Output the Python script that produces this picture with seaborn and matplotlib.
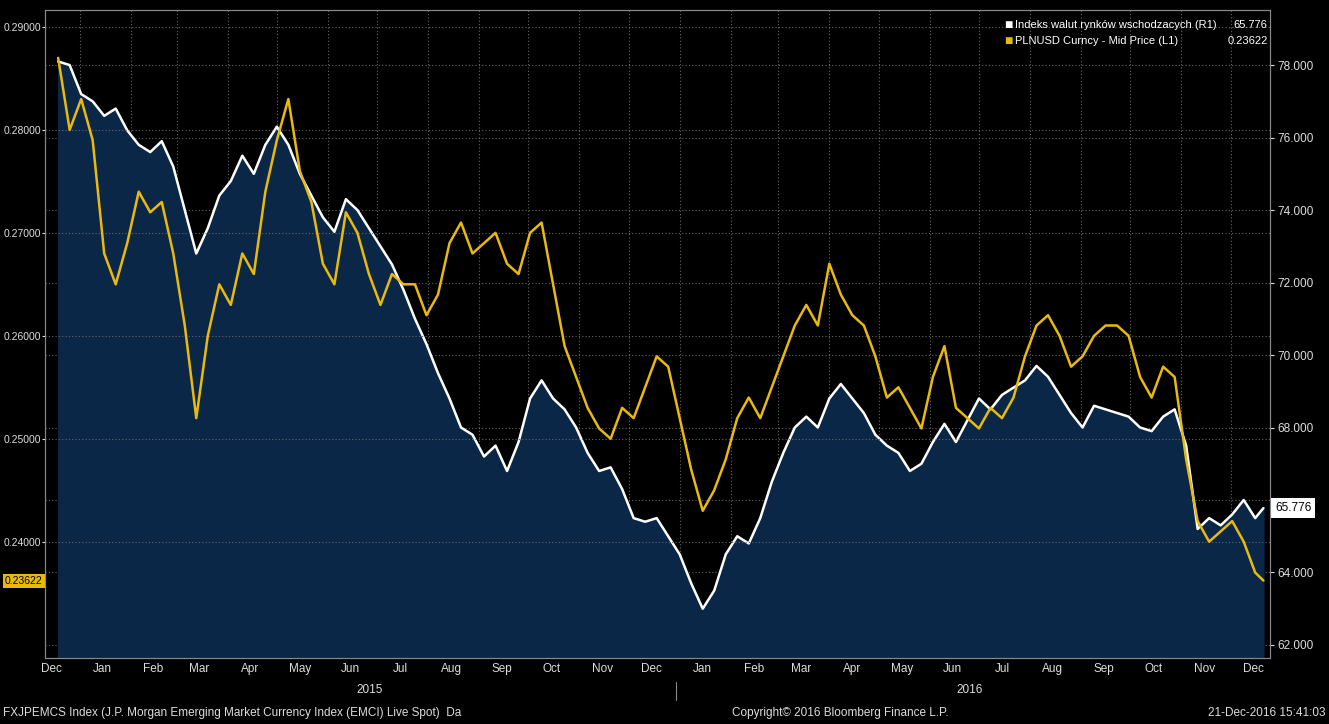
import pandas as pd
import numpy as np
import matplotlib.pyplot as plt
import matplotlib.dates as mdates
import seaborn as sns

# Indeks walut rynkow wschodzacych (R1), tygodniowo od 19-12-2014
emci = [78.1, 78.0,
        77.2, 77.0, 76.6, 76.8, 76.2,
        75.8, 75.6, 75.9, 75.2,
        74.0, 72.8, 73.5, 74.4,
        74.8, 75.5, 75.0, 75.8,
        76.3, 75.8, 75.0, 74.4, 73.8,
        73.4, 74.3, 74.0, 73.5,
        73.0, 72.5, 71.8, 71.0, 70.3,
        69.5, 68.8, 68.0, 67.8,
        67.2, 67.5, 66.8, 67.6,
        68.8, 69.3, 68.8, 68.5, 68.0,
        67.3, 66.8, 66.9, 66.3,
        65.5, 65.4, 65.5, 65.0,
        64.5, 63.7, 63.0, 63.5, 64.5,
        65.0, 64.8, 65.5, 66.5,
        67.3, 68.0, 68.3, 68.0,
        68.8, 69.2, 68.8, 68.4, 67.8,
        67.5, 67.3, 66.8, 67.0,
        67.6, 68.1, 67.6, 68.2,
        68.8, 68.5, 68.9, 69.1, 69.3,
        69.7, 69.4, 68.9, 68.4,
        68.0, 68.6, 68.5, 68.4, 68.3,
        68.0, 67.9, 68.3, 68.5,
        67.5, 65.2, 65.5, 65.3,
        65.6, 66.0, 65.5, 65.776]

# PLNUSD Curncy - Mid Price (L1)
plnusd = [0.2870, 0.2800,
          0.2830, 0.2790, 0.2680, 0.2650, 0.2690,
          0.2740, 0.2720, 0.2730, 0.2680,
          0.2610, 0.2520, 0.2600, 0.2650,
          0.2630, 0.2680, 0.2660, 0.2740,
          0.2790, 0.2830, 0.2760, 0.2730, 0.2670,
          0.2650, 0.2720, 0.2700, 0.2660,
          0.2630, 0.2660, 0.2650, 0.2650, 0.2620,
          0.2640, 0.2690, 0.2710, 0.2680,
          0.2690, 0.2700, 0.2670, 0.2660,
          0.2700, 0.2710, 0.2650, 0.2590, 0.2560,
          0.2530, 0.2510, 0.2500, 0.2530,
          0.2520, 0.2550, 0.2580, 0.2570,
          0.2520, 0.2470, 0.2430, 0.2450, 0.2480,
          0.2520, 0.2540, 0.2520, 0.2550,
          0.2580, 0.2610, 0.2630, 0.2610,
          0.2670, 0.2640, 0.2620, 0.2610, 0.2580,
          0.2540, 0.2550, 0.2530, 0.2510,
          0.2560, 0.2590, 0.2530, 0.2520,
          0.2510, 0.2530, 0.2520, 0.2540, 0.2580,
          0.2610, 0.2620, 0.2600, 0.2570,
          0.2580, 0.2600, 0.2610, 0.2610, 0.2600,
          0.2560, 0.2540, 0.2570, 0.2560,
          0.2480, 0.2420, 0.2400, 0.2410,
          0.2420, 0.2400, 0.2370, 0.23622]

right_ticks = [62, 64, 66, 68, 70, 72, 74, 76, 78]
left_ticks = [0.24, 0.25, 0.26, 0.27, 0.28, 0.29]

daty = list(pd.date_range("2014-12-19", "2016-12-16", freq="7D")) + [pd.Timestamp("2016-12-21")]
df = pd.DataFrame({"Data": daty, "EMCI": emci, "PLNUSD": plnusd})

sns.set_style("dark")
plt.rcParams["font.family"] = ["Liberation Sans", "DejaVu Sans"]
fs = 8.5

fig = plt.figure(figsize=(13.29, 7.24), dpi=100, facecolor="black")
ax = fig.add_axes([45 / 1329, 1 - 658 / 724, 1225 / 1329, 648 / 724])
ax.set_facecolor("black")
ax2 = ax.twinx()

# white line + area (right scale) on ax
ylo_r, yhi_r = 61.64, 79.52
ax.fill_between(df["Data"], df["EMCI"], ylo_r, color="#0b2747", zorder=1)
sns.lineplot(data=df, x="Data", y="EMCI", ax=ax, color="white", linewidth=1.8, zorder=3)
ax.set_ylim(ylo_r, yhi_r)
ax.yaxis.tick_right()
ax.yaxis.set_label_position("right")
ax.set_yticks(right_ticks)
# the 66 label sits under the last-value box
ax.set_yticklabels(["" if v == 66 else f"{v:.3f}" for v in right_ticks])

# yellow line (left scale) on ax2
sns.lineplot(data=df, x="Data", y="PLNUSD", ax=ax2, color="#e8b90f", linewidth=1.8, zorder=4)
ax2.set_ylim(0.2287, 0.29165)
ax2.yaxis.tick_left()
ax2.yaxis.set_label_position("left")
ax2.set_yticks(left_ticks)
ax2.set_yticklabels([f"{v:.5f}" for v in left_ticks])

for a in (ax, ax2):
    a.set_xlabel("")
    a.set_ylabel("")
    a.tick_params(colors="#dddddd", labelsize=fs, length=3, pad=2)
    for s in a.spines.values():
        s.set_color("#888888")
ax2.tick_params(axis="y", labelsize=7.5, length=2, pad=1)

ax.set_xlim(pd.Timestamp("2014-12-11"), pd.Timestamp("2016-12-25"))
ax.xaxis.set_major_locator(mdates.MonthLocator())
ax.xaxis.set_major_formatter(plt.NullFormatter())
ax.xaxis.set_minor_locator(mdates.MonthLocator(bymonthday=15))
ax.xaxis.set_minor_formatter(mdates.DateFormatter("%b"))
ax.tick_params(axis="x", which="minor", length=0, colors="#dddddd", labelsize=fs)
ax.grid(True, which="major", color="#666666", linestyle=(0, (1, 2)), linewidth=0.8)
ax2.grid(True, axis="y", color="#666666", linestyle=(0, (1, 2)), linewidth=0.8)

# legend
lx = 0.783
ax2.text(lx, 0.977, "■", transform=ax2.transAxes, color="white", fontsize=10, va="center")
ax2.text(lx + 0.009, 0.977, "Indeks walut rynków wschodzacych (R1)", transform=ax2.transAxes, color="white", fontsize=fs - 0.5, va="center")
ax2.text(0.998, 0.977, "65.776", transform=ax2.transAxes, color="white", fontsize=fs - 0.5, va="center", ha="right")
ax2.text(lx, 0.952, "■", transform=ax2.transAxes, color="#e8b90f", fontsize=10, va="center")
ax2.text(lx + 0.009, 0.952, "PLNUSD Curncy - Mid Price (L1)", transform=ax2.transAxes, color="white", fontsize=fs - 0.5, va="center")
ax2.text(0.998, 0.952, "0.23622", transform=ax2.transAxes, color="white", fontsize=fs - 0.5, va="center", ha="right")

# last value boxes
ax2.text(-0.002, 0.23622, "0.23622", transform=ax2.get_yaxis_transform(), ha="right", va="center",
         fontsize=7.5, color="black", bbox=dict(facecolor="#e8b90f", edgecolor="none", pad=1.5))
ax.text(1.004, 65.776, "65.776", transform=ax.get_yaxis_transform(), ha="left", va="center",
        fontsize=fs, color="black", bbox=dict(facecolor="white", edgecolor="none", pad=3), zorder=10)

# years and footer
fig.text(370 / 1329, 1 - 690 / 724, "2015", color="#dddddd", fontsize=fs, ha="center", va="center")
fig.text(970 / 1329, 1 - 690 / 724, "2016", color="#dddddd", fontsize=fs, ha="center", va="center")
fig.add_artist(plt.Line2D([676 / 1329, 676 / 1329], [1 - 682 / 724, 1 - 700 / 724], color="#888888", lw=0.8))
fig.text(3 / 1329, 1 - 713 / 724, "FXJPEMCS Index (J.P. Morgan Emerging Market Currency Index (EMCI) Live Spot)  Da",
         color="#dddddd", fontsize=fs, va="center")
fig.text(840 / 1329, 1 - 713 / 724, "Copyright© 2016 Bloomberg Finance L.P.", color="#dddddd", fontsize=fs, ha="center", va="center")
fig.text(1325 / 1329, 1 - 713 / 724, "21-Dec-2016 15:41:03", color="#dddddd", fontsize=fs, ha="right", va="center")

fig.savefig("out.png", dpi=100, facecolor="black")
